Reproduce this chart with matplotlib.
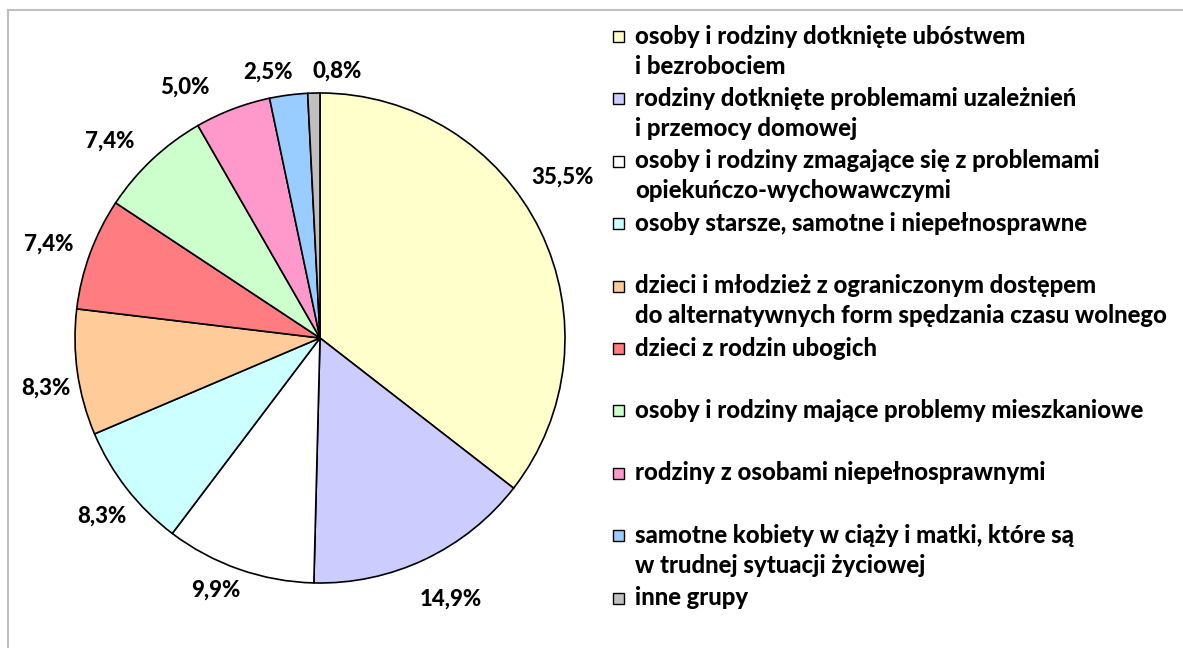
import matplotlib
matplotlib.use("Agg")
import matplotlib.pyplot as plt
import numpy as np
from matplotlib.patches import Rectangle
from matplotlib.lines import Line2D

plt.rcParams['font.family'] = ['Lato', 'DejaVu Sans']

values = [35.5, 14.9, 9.9, 8.3, 8.3, 7.4, 7.4, 5.0, 2.5, 0.8]
colors = ['#FFFFCC', '#CCCCFF', '#FFFFFF', '#CCFFFF', '#FFCC99',
          '#FF7C80', '#CCFFCC', '#FF99CC', '#99CCFF', '#C0C0C0']
categories = [
    ['osoby i rodziny dotknięte ubóstwem', 'i bezrobociem'],
    ['rodziny dotknięte problemami uzależnień', 'i przemocy domowej'],
    ['osoby i rodziny zmagające się z problemami', 'opiekuńczo-wychowawczymi'],
    ['osoby starsze, samotne i niepełnosprawne'],
    ['dzieci i młodzież z ograniczonym dostępem', 'do alternatywnych form spędzania czasu wolnego'],
    ['dzieci z rodzin ubogich'],
    ['osoby i rodziny mające problemy mieszkaniowe'],
    ['rodziny z osobami niepełnosprawnymi'],
    ['samotne kobiety w ciąży i matki, które są', 'w trudnej sytuacji życiowej'],
    ['inne grupy'],
]
# label placement tweaks: angle (deg) and extra radial offset (px)
label_nudge = [9, 0, -2, 3, 3, 0, 2, 6, 3, -5]
label_extra = [12, 22, 4, 5, -5, 5, 12, 14, 3, 0]

W, H = 1183, 648
fig = plt.figure(figsize=(W / 100, H / 100), dpi=100)

cx, cy, r, half = 320, 338, 245, 300
ax = fig.add_axes([(cx - half) / W, (H - cy - half) / H, 2 * half / W, 2 * half / H])
wedges, _ = ax.pie(values, colors=colors, startangle=90, counterclock=False,
                   radius=1, wedgeprops=dict(edgecolor='black', linewidth=1.2))
ax.set_xlim(-half / r, half / r)
ax.set_ylim(-half / r, half / r)
ax.set_aspect('equal')
ax.axis('off')

# label box sits just outside the rim: gap + half box size along the direction
gap, hw, hh = 9, 30, 13
for w, v, nudge, ex in zip(wedges, values, label_nudge, label_extra):
    ang = np.deg2rad((w.theta1 + w.theta2) / 2 + nudge)
    c, s = np.cos(ang), np.sin(ang)
    x = (r + gap + hw + ex) * c / r
    y = (r + gap + hh + ex) * s / r
    ax.text(x, y, f"{v:.1f}%".replace('.', ','),
            ha='center', va='center', fontsize=16, fontweight='black')

# legend
top, step, line_h = 36, 62.4, 30
for i, (lines, c) in enumerate(zip(categories, colors)):
    y0 = top + i * step
    fig.add_artist(Rectangle((613 / W, 1 - (y0 + 6) / H), 11 / W, 11 / H,
                             transform=fig.transFigure, facecolor=c,
                             edgecolor='black', linewidth=1))
    for j, t in enumerate(lines):
        fig.text(635 / W, 1 - (y0 + j * line_h) / H, t, ha='left', va='center',
                 fontsize=17.2, fontweight='black')

# outer frame
fig.add_artist(Line2D([7.5 / W, 1], [1 - 9.5 / H, 1 - 9.5 / H], color='#BFBFBF', linewidth=1.5))
fig.add_artist(Line2D([7.5 / W, 7.5 / W], [0, 1 - 9.5 / H], color='#BFBFBF', linewidth=1.5))

fig.savefig('out.png', dpi=100, facecolor='white')
